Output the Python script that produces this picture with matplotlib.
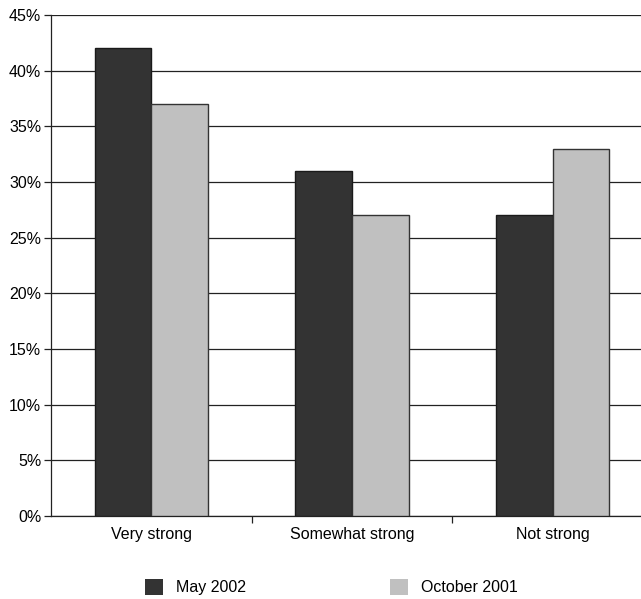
import numpy as np
import matplotlib.pyplot as plt
from matplotlib.ticker import FuncFormatter
from matplotlib.patches import Patch

plt.rcParams['font.family'] = ['Liberation Sans', 'DejaVu Sans']

categories = ['Very strong', 'Somewhat strong', 'Not strong']
may_2002 = [42, 31, 27]
oct_2001 = [37, 27, 33]
series_names = ['May 2002', 'October 2001']

dark = '#333333'
light = '#c0c0c0'
fs = 11.5

fig = plt.figure(figsize=(6.41, 5.99), dpi=100)
ax = fig.add_axes([51/641, 1-516/599, 602/641, 501/599])

x = np.arange(len(categories))
w = 0.282
ax.bar(x - w, may_2002, width=w, align='edge', color=dark,
       edgecolor='#1a1a1a', linewidth=1, zorder=3)
ax.bar(x, oct_2001, width=w, align='edge', color=light,
       edgecolor='#333333', linewidth=1, zorder=3)

ax.set_xlim(-0.5, 2.5)
ax.set_ylim(0, 45)
ax.set_yticks(np.arange(0, 46, 5))
ax.yaxis.set_major_formatter(FuncFormatter(lambda v, p: '%d%%' % v))
ax.grid(axis='y', color='#222222', linewidth=0.9, zorder=0)

ax.set_xticks(x)
ax.set_xticklabels(categories)
ax.set_xticks([0.5, 1.5], minor=True)
ax.tick_params(axis='x', which='major', length=0, pad=8, labelsize=fs)
ax.tick_params(axis='x', which='minor', length=5, width=0.9, color='#222222')
ax.tick_params(axis='y', length=5, width=0.9, color='#222222', pad=2, labelsize=fs)

for s in ['top', 'right']:
    ax.spines[s].set_visible(False)
for s in ['left', 'bottom']:
    ax.spines[s].set_color('#222222')
    ax.spines[s].set_linewidth(0.9)

handles = [Patch(facecolor=dark, edgecolor='none', label=series_names[0]),
           Patch(facecolor=light, edgecolor='none', label=series_names[1])]
fig.legend(handles=handles, loc='center', bbox_to_anchor=(0.517, 0.02), ncol=2,
           frameon=False, handlelength=1.15, handleheight=1.15, handletextpad=0.8,
           columnspacing=9.0, fontsize=fs)

fig.savefig('out.png', dpi=100)
